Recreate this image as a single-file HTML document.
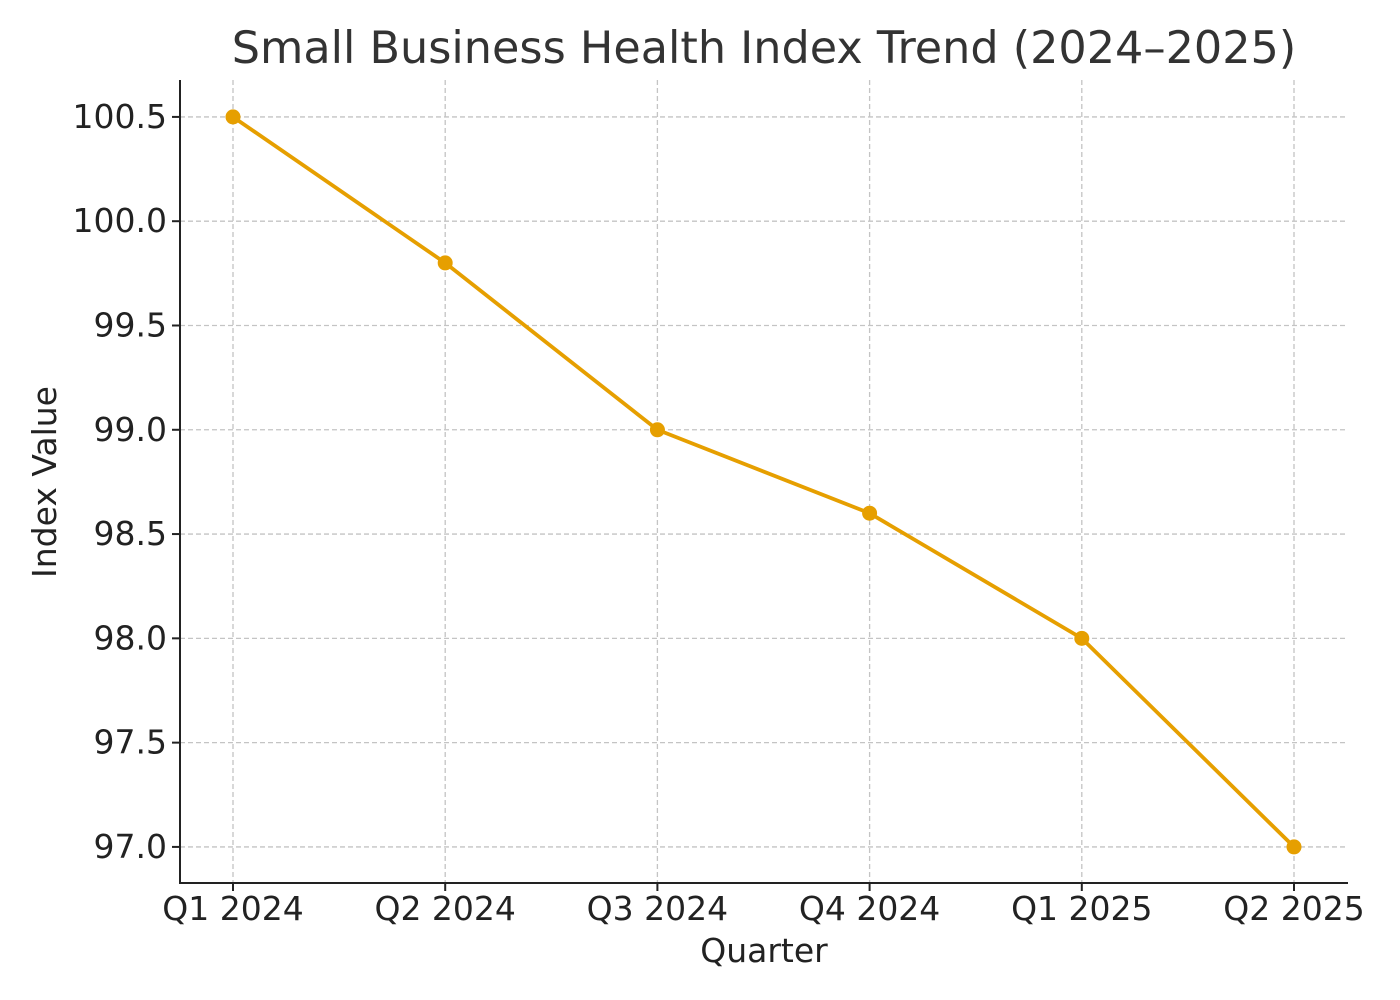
<!DOCTYPE html>
<html><head><meta charset="utf-8"><style>
html,body{margin:0;padding:0;background:#fff;}
svg{display:block;font-family:"DejaVu Sans","Liberation Sans",sans-serif;}
</style></head><body>
<svg id="chart" width="1400" height="1000" xmlns="http://www.w3.org/2000/svg">
<text x="764" y="63" font-size="44.5" fill="#333" text-anchor="middle">Small Business Health Index Trend (2024–2025)</text>
<g id="grid"></g>
<g id="axes"></g>
<g id="series"></g>
<text x="764" y="962" font-size="33" fill="#222" text-anchor="middle">Quarter</text>
<text transform="translate(56,482) rotate(-90)" font-size="33" fill="#222" text-anchor="middle">Index Value</text>
</svg>
<script>
const categories = ["Q1 2024","Q2 2024","Q3 2024","Q4 2024","Q1 2025","Q2 2025"];
const values = [100.5, 99.8, 99.0, 98.6, 98.0, 97.0];
const yTicks = [97.0, 97.5, 98.0, 98.5, 99.0, 99.5, 100.0, 100.5];

const NS="http://www.w3.org/2000/svg";
const plotLeft=180,plotRight=1348,plotTop=80,plotBottom=883;
const yMin=96.827,yMax=100.677;
const x0=233,x1=1294;
function xs(i){return x0+(x1-x0)*i/(categories.length-1);}
function ys(v){return plotBottom-(v-yMin)/(yMax-yMin)*(plotBottom-plotTop);}
function mk(tag,attrs,parent){const e=document.createElementNS(NS,tag);for(const k in attrs)e.setAttribute(k,attrs[k]);parent.appendChild(e);return e;}
const grid=document.getElementById('grid'),axes=document.getElementById('axes'),series=document.getElementById('series');

yTicks.forEach(t=>{
  const y=ys(t);
  const g=mk('line',{x1:plotLeft,x2:plotRight,y1:y,y2:y,stroke:'#c4c4c4','stroke-width':1.3,'stroke-dasharray':'5,3'},grid);
  
  
  const tk=mk('line',{x1:plotLeft-8,x2:plotLeft,y1:y,y2:y,stroke:'#222','stroke-width':2},axes);
  
  
  const tl=mk('text',{x:plotLeft-13,y:y+11,'font-size':33,fill:'#222','text-anchor':'end'},axes);
  tl.textContent=t.toFixed(1);
  
  
});
categories.forEach((c,i)=>{
  const x=xs(i);
  const g=mk('line',{x1:x,x2:x,y1:plotTop,y2:plotBottom,stroke:'#c4c4c4','stroke-width':1.3,'stroke-dasharray':'5,3'},grid);
  
  
  const tk=mk('line',{x1:x,x2:x,y1:plotBottom,y2:plotBottom+8,stroke:'#222','stroke-width':2},axes);
  
  
  const tl=mk('text',{x:x,y:plotBottom+37,'font-size':33,fill:'#222','text-anchor':'middle'},axes);
  tl.textContent=c;
  
  
});
const ls=mk('line',{x1:plotLeft,x2:plotLeft,y1:plotTop,y2:plotBottom,stroke:'#222','stroke-width':2},axes);


const bs=mk('line',{x1:plotLeft-1,x2:plotRight,y1:plotBottom,y2:plotBottom,stroke:'#222','stroke-width':2},axes);



const pts=values.map((v,i)=>xs(i)+','+ys(v)).join(' ');
const pl=mk('polyline',{points:pts,fill:'none',stroke:'#E69F00','stroke-width':3.8,'stroke-linejoin':'round'},series);


values.forEach((v,i)=>{
  const c=mk('circle',{cx:xs(i),cy:ys(v),r:7.5,fill:'#E69F00'},series);
  
  
});
</script>
</body></html>
